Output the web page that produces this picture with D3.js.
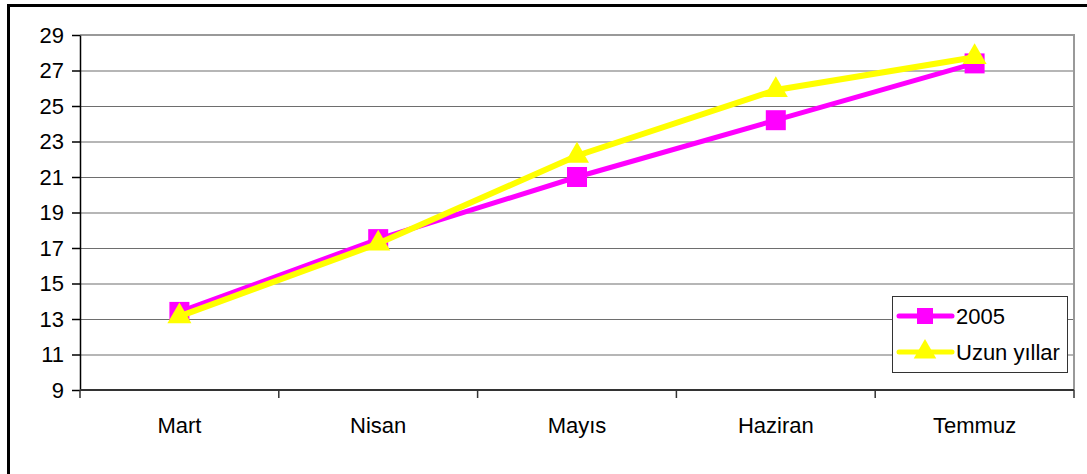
<!DOCTYPE html>
<html>
<head>
<meta charset="utf-8">
<script src="https://cdn.jsdelivr.net/npm/d3@7"></script>
<style>
  body { margin: 0; background: #fff; }
  text { font-family: "Liberation Sans", Arial, sans-serif; fill: #000; }
</style>
</head>
<body>
<svg id="chart" width="1087" height="474"></svg>
<script>
 // values
 let months = ["Mart", "Nisan", "Mayıs", "Haziran", "Temmuz"];
 let values2005 = [13.4, 17.5, 21.0, 24.2, 27.4];
 let valuesLong = [13.15, 17.25, 22.2, 25.9, 27.75];
 let yTicks = [9, 11, 13, 15, 17, 19, 21, 23, 25, 27, 29];
 let seriesNames = ["2005", "Uzun yıllar"];

 let svg = d3.select("svg#chart");

 let margin = {top: 35, right: 13, bottom: 84, left: 80};
 let width = svg.attr("width") - margin.left - margin.right;
 let height = svg.attr("height") - margin.top - margin.bottom;
 let fontSize = "22px";

 // outer frame
 svg.append("rect")
    .attr("x", 8.5).attr("y", 5.5)
    .attr("width", 1100).attr("height", 500)
    .attr("fill", "none").attr("stroke", "#000").attr("stroke-width", 3);

 let chart = svg.append("g").attr("transform", `translate(${margin.left},${margin.top})`);

 let x = d3.scaleBand().domain(months).range([0, width]);
 let y = d3.scaleLinear().domain([9, 29]).range([height, 0]);

 // gridlines
 chart.append("g")
      .call(d3.axisLeft(y).tickValues(yTicks).tickSize(-width).tickFormat(""))
      .call(g => g.select(".domain").remove())
      .call(g => g.selectAll("line").attr("stroke", "#6e6e6e").attr("stroke-width", 1.2));

 // plot area border (top and right)
 chart.append("path")
      .attr("d", `M0,0H${width}V${height}`)
      .attr("fill", "none").attr("stroke", "#999").attr("stroke-width", 2);

 // y axis
 chart.append("g")
      .call(d3.axisLeft(y).tickValues(yTicks).tickSize(8).tickSizeOuter(0).tickPadding(8))
      .call(g => g.selectAll("text").style("font-size", fontSize))
      .call(g => g.selectAll("path, line").attr("stroke", "#000").attr("stroke-width", 1.5));

 // x axis with ticks between categories
 let xAxis = chart.append("g").attr("transform", `translate(0,${height})`);
 xAxis.append("line").attr("x1", 0).attr("x2", width)
      .attr("stroke", "#333").attr("stroke-width", 2);
 xAxis.selectAll("line.tick")
      .data(d3.range(months.length + 1))
      .join("line")
      .attr("class", "tick")
      .attr("x1", i => i * x.step()).attr("x2", i => i * x.step())
      .attr("y1", 0).attr("y2", 8)
      .attr("stroke", "#333").attr("stroke-width", 1.5);
 xAxis.selectAll("text")
      .data(months)
      .join("text")
      .attr("x", d => x(d) + x.bandwidth() / 2)
      .attr("y", 43)
      .attr("text-anchor", "middle")
      .style("font-size", fontSize)
      .text(d => d);

 let cx = d => x(d) + x.bandwidth() / 2;
 let line = d3.line().x((d, i) => cx(months[i])).y(d => y(d));

 let square = d3.symbol().type(d3.symbolSquare).size(400);
 let triangle = d3.symbol().type(d3.symbolTriangle).size(250);

 // 2005 series
 chart.append("path").datum(values2005)
      .attr("d", line).attr("fill", "none")
      .attr("stroke", "#ff00ff").attr("stroke-width", 5);
 chart.selectAll("path.sq").data(values2005).join("path")
      .attr("class", "sq")
      .attr("d", square)
      .attr("transform", (d, i) => `translate(${cx(months[i])},${y(d)})`)
      .attr("fill", "#ff00ff");

 // long-term series
 chart.append("path").datum(valuesLong)
      .attr("d", line).attr("fill", "none")
      .attr("stroke", "#ffff00").attr("stroke-width", 6);
 chart.selectAll("path.tri").data(valuesLong).join("path")
      .attr("class", "tri")
      .attr("d", triangle)
      .attr("transform", (d, i) => `translate(${cx(months[i])},${y(d)})`)
      .attr("fill", "#ffff00");

 // legend
 let legend = svg.append("g").attr("transform", "translate(892,296)");
 legend.append("rect").attr("x", 0.5).attr("y", 0.5)
       .attr("width", 175).attr("height", 76)
       .attr("fill", "#fff").attr("stroke", "#333").attr("stroke-width", 1);
 let colors = ["#ff00ff", "#ffff00"];
 let shapes = [d3.symbol().type(d3.symbolSquare).size(256), d3.symbol().type(d3.symbolTriangle).size(220)];
 seriesNames.forEach((name, i) => {
   let ly = 20 + i * 36;
   legend.append("line").attr("x1", 7).attr("x2", 60)
         .attr("y1", ly).attr("y2", ly)
         .attr("stroke", colors[i]).attr("stroke-width", 5)
         .attr("stroke-linecap", "round");
   legend.append("path").attr("d", shapes[i])
         .attr("transform", `translate(33,${ly})`)
         .attr("fill", colors[i]);
   legend.append("text").attr("x", 64).attr("y", ly + 8)
         .style("font-size", fontSize).text(name);
 });
</script>
</body>
</html>
